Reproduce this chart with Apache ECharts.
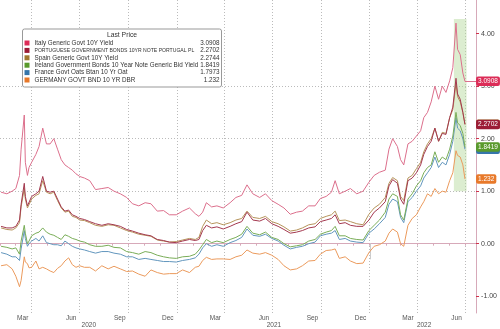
<!DOCTYPE html>
<html><head><meta charset="utf-8">
<script src="https://cdn.jsdelivr.net/npm/echarts@6/dist/echarts.min.js"></script>
<style>html,body{margin:0;padding:0;background:#fff}#c{width:500px;height:329px}</style>
</head><body><div id="c"></div>
<script>
const dates = [
'2020-02-03','2020-02-14','2020-02-24','2020-03-02','2020-03-09','2020-03-12','2020-03-18','2020-03-20','2020-03-24','2020-03-27',
'2020-04-01','2020-04-09','2020-04-15','2020-04-22','2020-04-29','2020-05-06','2020-05-13','2020-05-20','2020-05-27','2020-06-03',
'2020-06-10','2020-06-17','2020-06-24','2020-07-01','2020-07-10','2020-07-20','2020-07-31','2020-08-12','2020-08-24','2020-09-04',
'2020-09-16','2020-09-28','2020-10-09','2020-10-21','2020-11-02','2020-11-13','2020-11-25','2020-12-07','2020-12-18','2020-12-31',
'2021-01-12','2021-01-25','2021-02-05','2021-02-12','2021-02-19','2021-02-26','2021-03-08','2021-03-18','2021-03-30','2021-04-12',
'2021-04-23','2021-05-04','2021-05-14','2021-05-25','2021-06-07','2021-06-18','2021-06-30','2021-07-12','2021-07-23','2021-08-04',
'2021-08-16','2021-08-27','2021-09-08','2021-09-20','2021-09-30','2021-10-11','2021-10-21','2021-10-28','2021-11-05','2021-11-16',
'2021-11-26','2021-12-08','2021-12-20','2021-12-31',
'2022-01-10','2022-01-20','2022-01-31','2022-02-07','2022-02-14','2022-02-23','2022-03-01','2022-03-07','2022-03-15','2022-03-23',
'2022-03-31','2022-04-08','2022-04-14','2022-04-21','2022-04-28','2022-05-05','2022-05-12','2022-05-19','2022-05-26','2022-06-02',
'2022-06-08','2022-06-14','2022-06-17','2022-06-22','2022-06-27','2022-07-01'];

const italy = [
0.98,0.95,1.00,1.05,1.30,1.80,2.45,1.55,1.30,1.45,1.55,1.70,1.85,2.20,1.90,1.90,2.00,1.80,1.60,1.50,
1.45,1.40,1.33,1.28,1.25,1.20,1.03,1.05,1.07,1.00,0.95,0.88,0.76,0.72,0.78,0.76,0.62,0.63,0.55,0.55,
0.62,0.68,0.57,0.52,0.60,0.78,0.70,0.72,0.68,0.78,0.88,0.92,1.12,0.95,0.88,0.95,0.82,0.75,0.68,0.56,
0.60,0.62,0.72,0.72,0.86,0.90,0.98,1.20,0.95,1.00,1.05,0.95,1.00,1.17,
1.30,1.36,1.40,1.80,2.00,1.85,1.60,1.50,1.90,1.95,2.05,2.15,2.40,2.50,2.70,3.00,2.75,3.00,2.88,3.10,
3.35,4.20,3.70,3.60,3.25,3.0908];
const portugal = [
0.33,0.30,0.30,0.33,0.45,0.75,1.15,0.90,0.72,0.75,0.90,0.95,1.00,1.28,1.00,0.98,1.00,0.85,0.70,0.62,
0.64,0.55,0.52,0.48,0.46,0.42,0.38,0.35,0.38,0.36,0.33,0.27,0.24,0.20,0.17,0.15,0.08,0.06,0.03,0.02,
0.05,0.08,0.06,0.08,0.25,0.35,0.30,0.32,0.28,0.33,0.38,0.42,0.60,0.45,0.43,0.48,0.38,0.33,0.27,0.20,
0.22,0.25,0.30,0.32,0.42,0.45,0.48,0.55,0.38,0.40,0.35,0.33,0.33,0.45,
0.60,0.68,0.80,1.10,1.22,1.15,0.85,0.75,1.20,1.25,1.35,1.50,1.70,1.85,1.95,2.20,1.95,2.10,2.08,2.40,
2.60,3.15,2.85,2.75,2.50,2.2702];
const spain = [
0.30,0.27,0.26,0.30,0.40,0.70,1.05,0.85,0.68,0.70,0.85,0.92,0.95,1.20,0.98,0.95,0.98,0.82,0.68,0.60,
0.62,0.52,0.50,0.45,0.44,0.40,0.35,0.33,0.36,0.35,0.30,0.25,0.22,0.18,0.16,0.14,0.07,0.05,0.03,0.04,
0.07,0.10,0.08,0.12,0.33,0.45,0.38,0.40,0.36,0.40,0.45,0.48,0.62,0.50,0.48,0.52,0.42,0.38,0.32,0.24,
0.26,0.30,0.36,0.38,0.48,0.52,0.55,0.62,0.44,0.45,0.42,0.38,0.36,0.56,
0.68,0.75,0.88,1.15,1.26,1.20,0.90,0.82,1.25,1.30,1.43,1.55,1.75,1.90,2.00,2.20,1.95,2.12,2.10,2.40,
2.55,3.05,2.80,2.70,2.50,2.2744];
const ireland = [
-0.05,-0.07,-0.10,-0.08,-0.20,0.05,0.35,0.20,0.00,0.05,0.15,0.20,0.22,0.30,0.22,0.18,0.16,0.12,0.08,0.17,
0.14,0.10,0.08,0.05,0.03,-0.02,-0.05,-0.05,-0.03,-0.07,-0.08,-0.15,-0.17,-0.20,-0.15,-0.17,-0.22,-0.25,-0.27,-0.28,
-0.25,-0.24,-0.20,-0.12,-0.02,0.08,0.02,0.05,0.02,0.08,0.12,0.18,0.33,0.20,0.17,0.22,0.12,0.08,0.00,-0.06,
-0.04,-0.02,0.05,0.08,0.18,0.22,0.25,0.33,0.15,0.15,0.10,0.08,0.07,0.25,
0.35,0.45,0.60,0.85,0.95,0.90,0.55,0.45,0.85,0.95,1.10,1.20,1.35,1.45,1.50,1.75,1.55,1.65,1.60,1.80,
2.05,2.50,2.30,2.25,2.10,1.8419];
const france = [
-0.17,-0.20,-0.25,-0.25,-0.32,-0.10,0.25,0.10,-0.05,0.00,0.05,0.10,0.05,0.15,0.02,0.00,-0.02,-0.02,-0.04,0.05,
0.00,-0.05,-0.08,-0.10,-0.12,-0.15,-0.18,-0.15,-0.15,-0.18,-0.20,-0.25,-0.25,-0.30,-0.28,-0.30,-0.32,-0.34,-0.34,-0.35,
-0.32,-0.30,-0.27,-0.20,-0.08,0.00,-0.05,-0.02,-0.05,0.02,0.06,0.12,0.28,0.16,0.14,0.18,0.10,0.05,-0.03,-0.10,
-0.07,-0.05,0.00,0.03,0.15,0.18,0.20,0.25,0.08,0.10,0.05,0.03,0.02,0.20,
0.28,0.38,0.50,0.75,0.85,0.80,0.50,0.40,0.80,0.88,1.00,1.10,1.25,1.35,1.45,1.65,1.45,1.55,1.50,1.70,
1.95,2.40,2.20,2.15,2.00,1.7973];
const germany = [
-0.42,-0.40,-0.48,-0.62,-0.82,-0.70,-0.25,-0.35,-0.38,-0.46,-0.45,-0.33,-0.48,-0.45,-0.48,-0.52,-0.55,-0.47,-0.42,-0.33,
-0.27,-0.40,-0.45,-0.42,-0.45,-0.45,-0.52,-0.42,-0.48,-0.43,-0.48,-0.53,-0.52,-0.58,-0.62,-0.50,-0.55,-0.58,-0.57,-0.57,
-0.50,-0.55,-0.45,-0.43,-0.32,-0.26,-0.30,-0.29,-0.29,-0.30,-0.25,-0.22,-0.12,-0.18,-0.20,-0.17,-0.22,-0.30,-0.42,-0.50,
-0.48,-0.42,-0.33,-0.32,-0.20,-0.13,-0.12,-0.10,-0.28,-0.25,-0.33,-0.38,-0.37,-0.17,
-0.05,-0.02,0.05,0.20,0.28,0.22,0.00,-0.05,0.35,0.48,0.55,0.70,0.80,0.95,0.90,1.05,0.95,1.00,0.98,1.20,
1.35,1.77,1.68,1.65,1.50,1.232];

const seriesNames = [
'Italy Generic Govt 10Y Yield',
'PORTUGUESE GOVERNMENT BONDS 10YR NOTE PORTUGAL PL',
'Spain Generic Govt 10Y Yield',
'Ireland Government Bonds 10 Year Note Generic Bid Yield',
'France Govt Oats Btan 10 Yr Oat',
'GERMANY GOVT BND 10 YR DBR'];
const lastPrices = ['3.0908','2.2702','2.2744','1.8419','1.7973','1.232'];
const seriesValues = [italy, portugal, spain, ireland, france, germany];
const mainColors = ['#dc2c57','#9c1c36','#a0782f','#5a9a2c','#3676ab','#e8792a'];
const lineColors = ['#dc6f8c','#a3384f','#b5935a','#79ad57','#6296bd','#eb9a5c'];
const highlightRange = ['2022-06-10','2022-07-04'];
const highlightValues = [4.28, 1.0];
const axisStart = '2020-02-01', axisEnd = '2022-07-22';
const monthLabels = {'03':'Mar','06':'Jun','09':'Sep','12':'Dec'};

const cats = [];
for (let t = Date.parse(axisStart + 'T00:00:00Z'); t <= Date.parse(axisEnd + 'T00:00:00Z'); t += 86400000) {
  cats.push(new Date(t).toISOString().slice(0, 10));
}
const idx = s => cats.indexOf(s);

// year label positions: centre of each year's visible span
const yearCenters = [];
['2020','2021','2022'].forEach(y => {
  const inYear = cats.map((c,i)=>[c,i]).filter(p => p[0].startsWith(y));
  const mid = Math.round((inYear[0][1] + inYear[inYear.length-1][1] + 1) / 2);
  yearCenters.push(cats[Math.min(mid, cats.length-1)]);
});

const font = "'Liberation Sans', Arial, sans-serif";
const legendFont = "'Liberation Sans', Arial, sans-serif";
const axisColor = '#d7a9b9';
const gridCfg = {left: 0, right: 23, top: 0, bottom: 16};

const drawOrder = [5, 4, 3, 2, 1, 0];
const series = drawOrder.map(k => {
  const s = {
    name: seriesNames[k], type: 'line', xAxisIndex: 0, yAxisIndex: 0,
    data: dates.map((d, i) => [idx(d), seriesValues[k][i]]),
    symbol: 'none', showSymbol: false,
    lineStyle: {width: 1, color: lineColors[k]},
    itemStyle: {color: mainColors[k]},
    emphasis: {disabled: true},
    markLine: {
      silent: true, symbol: 'none', animation: false,
      lineStyle: {color: k === 0 ? lineColors[k] : 'rgba(0,0,0,0)', width: 1, type: 'solid'},
      label: {show: true, position: 'end', distance: 0, formatter: lastPrices[k],
        backgroundColor: mainColors[k], color: '#fff', fontSize: 6.5, fontFamily: font,
        padding: [1.5, 2, 1, 2], borderRadius: 2},
      data: [[{coord: [idx(dates[dates.length-1]), +lastPrices[k]]}, {coord: [cats.length-1, +lastPrices[k]]}]]
    }
  };
  if (k === 5) {
    s.markArea = {silent: true, itemStyle: {color: 'rgba(178,214,150,0.45)'},
      data: [[{coord: [idx(highlightRange[0]), highlightValues[0]]}, {coord: [idx(highlightRange[1]), highlightValues[1]]}]]};
  }
  return s;
});

const lastMap = {};
seriesNames.forEach((n, i) => lastMap[n] = lastPrices[i]);

const option = {
  animation: false,
  textStyle: {fontFamily: font},
  title: {text: 'Last Price', left: 122, top: 31.5, textAlign: 'center', padding: 0,
    textStyle: {fontSize: 6.8, fontWeight: 'normal', color: '#333', fontFamily: legendFont}},
  legend: {
    orient: 'vertical', left: 22.5, top: 29, data: seriesNames, icon: 'rect',
    itemWidth: 5, itemHeight: 5, itemGap: 0, padding: [10.3, 2, 3.3, 2],
    backgroundColor: '#fff', borderColor: '#999', borderWidth: 1, borderRadius: 2,
    selectedMode: false,
    formatter: n => (n === n.toUpperCase() && n.length > 30 ? '{s|' : '{n|') + n + '}{v|' + lastMap[n] + '}',
    textStyle: {fontSize: 6.3, color: '#333', lineHeight: 7.4, fontFamily: legendFont,
      rich: {n: {width: 163, fontSize: 6.3, lineHeight: 7.4, fontFamily: legendFont},
             s: {width: 163, fontSize: 5.1, lineHeight: 7.4, fontFamily: legendFont},
             v: {width: 22, align: 'right', fontSize: 6.3, lineHeight: 7.4, fontFamily: legendFont}}}
  },
  grid: [Object.assign({}, gridCfg), Object.assign({}, gridCfg)],
  xAxis: [{
    type: 'category', gridIndex: 0, data: cats, boundaryGap: false, position: 'bottom',
    axisLine: {lineStyle: {color: axisColor}},
    axisTick: {show: true, interval: (i, v) => v.slice(8) === '01', length: 2, lineStyle: {color: axisColor}},
    axisLabel: {interval: (i, v) => v.slice(8) === '15' && !!monthLabels[v.slice(5, 7)],
      formatter: v => monthLabels[v.slice(5, 7)] || '', fontSize: 6.5, color: '#555', margin: 2},
    splitLine: {show: true, interval: (i, v) => v.slice(8) === '01' && ['01','04','07','10'].includes(v.slice(5, 7)),
      lineStyle: {color: '#bbb', type: [1, 2]}}
  }, {
    type: 'category', gridIndex: 1, data: cats, boundaryGap: false, position: 'bottom',
    axisLine: {show: false},
    axisTick: {show: true, interval: (i, v) => v.slice(5) === '01-01', length: 16, lineStyle: {color: '#ccc'}},
    axisLabel: {interval: (i, v) => yearCenters.includes(v), formatter: v => v.slice(0, 4),
      fontSize: 6.5, color: '#555', margin: 9.5},
    splitLine: {show: false}
  }],
  yAxis: [{
    type: 'value', gridIndex: 0, position: 'right', min: -1.32, max: 4.64,
    axisLine: {show: true, lineStyle: {color: axisColor}},
    axisTick: {show: true, length: 3, lineStyle: {color: '#d0304a'}, customValues: [-1, 0, 1, 2, 3, 4]},
    minorTick: {show: false},
    axisLabel: {fontSize: 7, color: '#444', margin: 5, showMinLabel: false, showMaxLabel: false,
      formatter: v => Math.abs(v - Math.round(v)) < 1e-6 ? v.toFixed(2) : ''},
    splitLine: {show: true, showMinLine: false, showMaxLine: false, lineStyle: {color: '#bbb', type: [1, 2]}}
  }, {
    type: 'value', gridIndex: 1, show: false, min: -1.32, max: 4.64
  }],
  series: series
};

const chart = echarts.init(document.getElementById('c'), null, {renderer: 'canvas'});
chart.setOption(option);
</script>
</body></html>
